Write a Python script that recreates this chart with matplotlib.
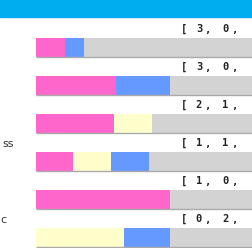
import matplotlib
matplotlib.use('Agg')
import matplotlib.pyplot as plt
from matplotlib.patches import Rectangle

# segment lengths per row (one unit ~ one step of the scale)
pink = [0.75, 2.1, 2.05, 0.97, 3.52, 0]
yellow = [0, 0, 1.0, 1.0, 0, 2.32]
blue = [0.5, 1.42, 0, 1.0, 0, 1.21]
track = 8.0
# values printed above each bar (only the first two are visible)
counts = [[3, 0], [3, 0], [2, 1], [1, 1], [1, 0], [0, 2]]
# left labels (only their ends are visible in the crop)
side_labels = {3: 'ss', 5: 'c'}

PINK = '#ff66cc'
BLUE = '#6699ff'
YELLOW = '#ffffcc'
GRAY = '#d3d3d3'
HEADER = '#00aeef'


def main():
    fig = plt.figure(figsize=(2.52, 2.48), dpi=100)
    ax = fig.add_axes([0, 0, 1, 1])
    rows = range(len(pink))

    left = [0] * len(pink)
    ax.barh(rows, [track] * len(pink), height=0.5, color=GRAY, zorder=1)
    for vals, col in [(pink, PINK), (yellow, YELLOW), (blue, BLUE)]:
        ax.barh(rows, vals, left=left, height=0.5, color=col, zorder=2)
        left = [a + b for a, b in zip(left, vals)]
    ax.hlines([r + 0.25 for r in rows], 0, track, color='#aaaaaa', lw=1, zorder=3)

    # bracketed count text above bars
    style = dict(ha='center', va='center', fontsize=7.5, fontweight='bold',
                 family='DejaVu Sans Mono', color='#222222')
    for r, cs in zip(rows, counts):
        ty = r - 0.49
        ax.text((184 - 36) / 38, ty, '[', **style)
        for k, c in enumerate(cs):
            ax.text((199 + 26.5 * k - 36) / 38, ty, str(c), **style)
            ax.text((207 + 27 * k - 36) / 38, ty + 0.03, ',', **style)

    for r, lab in side_labels.items():
        xl = 2.5 if r == 3 else 0.5
        ax.text((xl - 36) / 38, r - 0.45, lab, ha='left', va='center',
                fontsize=8, color='#333333')

    ax.set_xlim(-36 / 38, (252 - 36) / 38)
    ax.set_ylim((248 - 47.2) / 38, -47.2 / 38)
    ax.axis('off')

    fig.add_artist(Rectangle((0, 1 - 17 / 248), 1, 17 / 248,
                             transform=fig.transFigure, color=HEADER))
    fig.savefig('out.png', dpi=100)


if __name__ == '__main__':
    main()
